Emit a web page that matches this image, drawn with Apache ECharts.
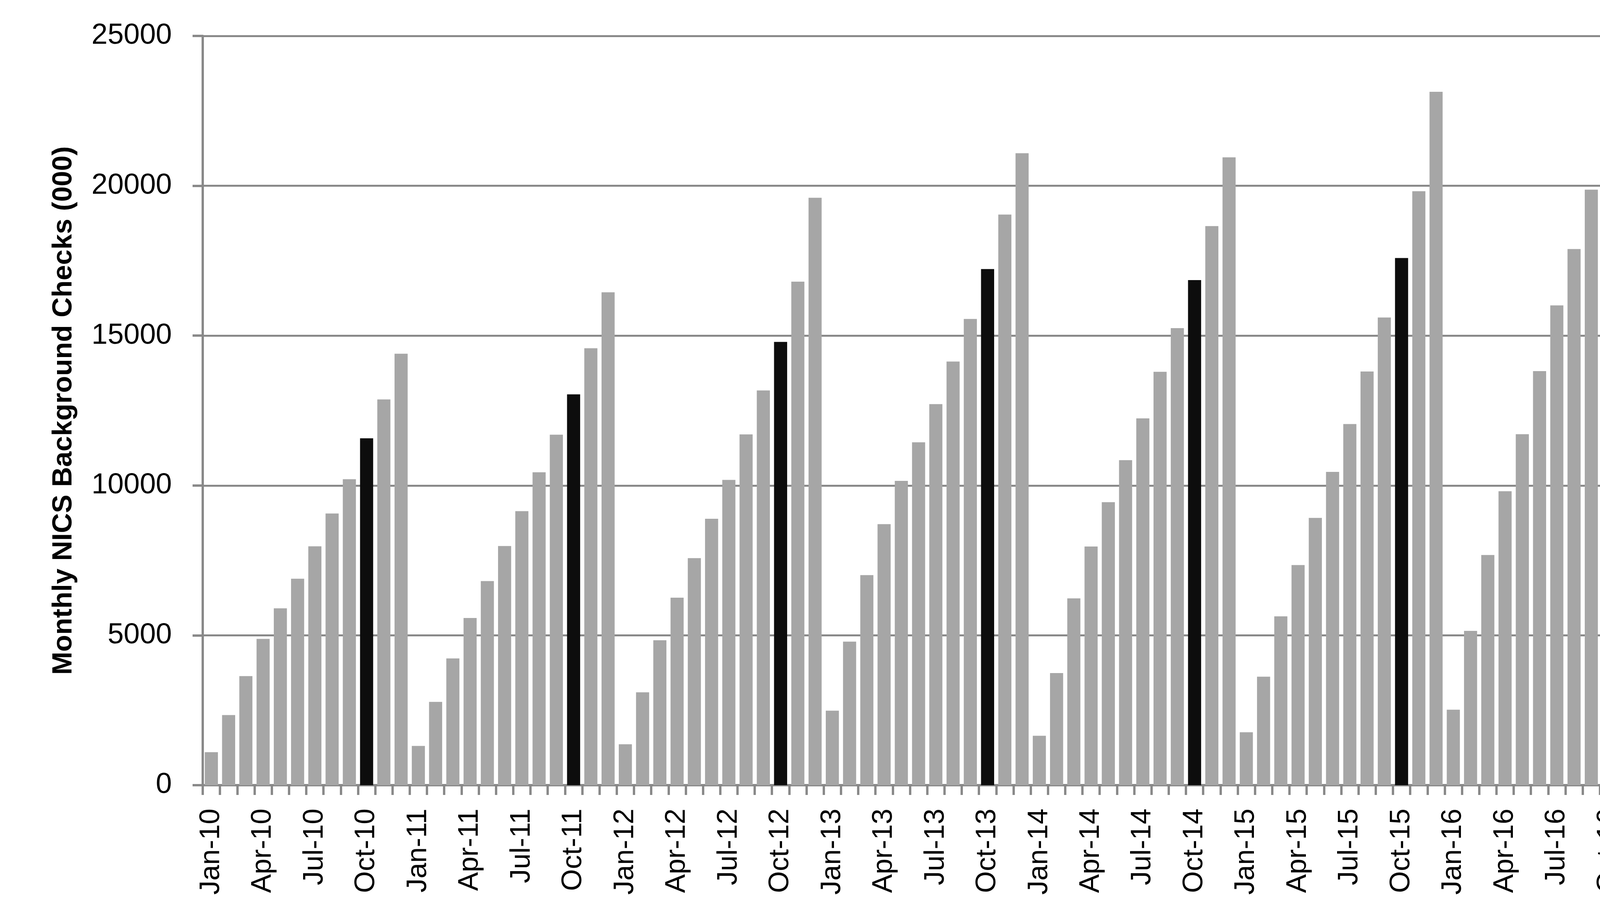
<!DOCTYPE html>
<html>
<head>
<meta charset="utf-8">
<script src="https://cdn.jsdelivr.net/npm/echarts@6/dist/echarts.min.js"></script>
<style>
html,body{margin:0;padding:0;background:#fff;overflow:hidden;}
#chart{width:4231px;height:2350px;}
</style>
</head>
<body>
<div id="chart"></div>
<script>
// Month abbreviations and two-digit years used for category labels
const monthNames = ['Jan','Feb','Mar','Apr','May','Jun','Jul','Aug','Sep','Oct','Nov','Dec'];
const years = ['10','11','12','13','14','15','16'];
const lastMonthIndex2016 = 9; // data ends Oct-16

// Monthly NICS background checks (000), Jan-10 .. Oct-16
const values2010 = [1100, 2340, 3640, 4880, 5900, 6890, 7970, 9065, 10210, 11575, 12870, 14395];
const values2011 = [1310, 2780, 4230, 5580, 6810, 7980, 9145, 10440, 11695, 13040, 14580, 16445];
const values2012 = [1365, 3100, 4835, 6258, 7575, 8890, 10185, 11706, 13170, 14790, 16800, 19600];
const values2013 = [2485, 4790, 7010, 8710, 10155, 11440, 12715, 14137, 15555, 17222, 19040, 21085];
const values2014 = [1650, 3740, 6235, 7965, 9445, 10845, 12240, 13795, 15250, 16855, 18655, 20950];
const values2015 = [1765, 3620, 5635, 7345, 8920, 10455, 12050, 13805, 15605, 17590, 19820, 23136];
const values2016 = [2520, 5150, 7680, 9810, 11710, 13815, 16010, 17890, 19870, 22200];

// Highlighted (October) categories
const highlighted = ['Oct-10','Oct-11','Oct-12','Oct-13','Oct-14','Oct-15','Oct-16'];

// y-axis ticks
const yMin = 0, yMax = 25000, yStep = 5000;

const yAxisTitle = 'Monthly NICS Background Checks (000)';

// Build categories and series
const categories = [];
years.forEach((y, yi) => {
  const n = (yi === years.length - 1) ? lastMonthIndex2016 + 1 : 12;
  for (let m = 0; m < n; m++) categories.push(monthNames[m] + '-' + y);
});
const allValues = [].concat(values2010, values2011, values2012, values2013, values2014, values2015, values2016);

const GRAY = '#A6A6A6';
const BLACK = '#0D0D0D';
const seriesData = allValues.map((v, i) => ({
  value: v,
  itemStyle: { color: highlighted.includes(categories[i]) ? BLACK : GRAY }
}));

const AXIS_COLOR = '#898989';
const FONT = '"Liberation Sans", Arial, sans-serif';

const chart = echarts.init(document.getElementById('chart'), null, {renderer: 'canvas'});
chart.setOption({
  animation: false,
  backgroundColor: '#ffffff',
  grid: { left: 519, right: 91, top: 92, bottom: 340, containLabel: false },
  xAxis: {
    type: 'category',
    data: categories,
    boundaryGap: true,
    axisLine: { show: true, lineStyle: { color: AXIS_COLOR, width: 6 } },
    axisTick: { show: true, interval: 0, length: 25, lineStyle: { color: AXIS_COLOR, width: 6 } },
    axisLabel: {
      interval: 2,
      rotate: 90,
      margin: 60,
      fontSize: 72,
      fontFamily: FONT,
      color: '#000'
    },
    splitLine: { show: false }
  },
  yAxis: {
    type: 'value',
    min: yMin,
    max: yMax,
    interval: yStep,
    name: yAxisTitle,
    nameLocation: 'middle',
    nameRotate: 90,
    nameGap: 320,
    nameTextStyle: { fontSize: 71, fontWeight: 'bold', fontFamily: FONT, color: '#000' },
    axisLine: { show: true, lineStyle: { color: AXIS_COLOR, width: 6 } },
    axisTick: { show: true, length: 26, lineStyle: { color: AXIS_COLOR, width: 6 } },
    axisLabel: { margin: 79, fontSize: 74, fontFamily: FONT, color: '#000', formatter: v => String(v) },
    splitLine: { show: true, lineStyle: { color: AXIS_COLOR, width: 5 } }
  },
  series: [{
    type: 'bar',
    data: seriesData,
    barCategoryGap: '24%'
  }]
});
</script>
</body>
</html>
